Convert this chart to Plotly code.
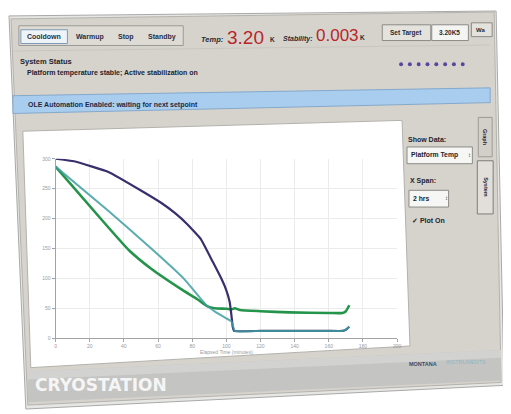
import plotly.graph_objects as go

# ---------------- data ----------------
purple_min = [0, 12, 31, 50, 62, 70, 77, 85, 92, 97, 100, 102, 103, 103.8, 104.5, 120, 140, 160, 168, 170, 172]
purple_K = [300, 295, 278, 247, 226, 209, 191, 166, 128, 100, 80, 60, 38, 18, 12, 12, 12, 12, 12, 14, 19]

teal_min = [0, 30, 58, 75, 88, 94, 100, 103, 105, 120, 140, 160, 168, 170, 172]
teal_K = [287, 215, 145, 100, 56, 43, 33, 28, 12, 12, 12, 12, 12, 14, 19]

green_min = [0, 27, 43, 56, 74, 83, 89, 93, 100, 103, 105, 108, 120, 137, 160, 168, 170, 172]
green_K = [287, 198, 147, 116, 81, 65, 53, 50, 49, 48, 50, 47, 45, 43, 42, 42, 45, 55]

x_ticks = [0, 20, 40, 60, 80, 100, 120, 140, 160, 180, 200]
y_ticks = [0, 50, 100, 150, 200, 250, 300]

# page body margin offset (8px) is compensated
OFF = 8
W, H = 511 - OFF, 414 - OFF
F = "Liberation Sans"


def px(x):
    return (x - OFF) / W


def py(y):
    return 1 - (y - OFF) / H


def path(pts):
    s = "M " + " L ".join(f"{px(x):.5f},{py(y):.5f}" for x, y in pts) + " Z"
    return s


shapes = []
ann = []


def quad(pts, fill, line="rgba(0,0,0,0)", lw=1):
    shapes.append(dict(type="path", xref="paper", yref="paper", path=path(pts),
                       fillcolor=fill, line=dict(color=line, width=lw), layer="below"))


def rect(x0, y0, x1, y1, fill, line="rgba(0,0,0,0)", lw=1):
    quad([(x0, y0), (x1, y0), (x1, y1), (x0, y1)], fill, line, lw)


def txt(x, y, s, size=8, color="#23232e", anchor="left", angle=0, family=F):
    ann.append(dict(x=px(x), y=py(y), xref="paper", yref="paper", text=s, showarrow=False,
                    xanchor=anchor, yanchor="middle", textangle=angle,
                    font=dict(family=family, size=size, color=color)))


# outer frame & panel
quad([(8, 13), (500, 8), (508, 388), (25, 412)], "#e6e6e4", "#a9a9a7", 1)
quad([(10, 16), (498, 9), (505, 385), (27, 408)], "#d6d3cd", "#b5b3ad", 1)

# header separators
quad([(12, 48), (494, 42), (494, 43), (12, 49)], "#c9c6c0")

# blue automation bar
quad([(12, 94), (494, 86), (494, 101), (12, 112)], "#a9cdee", "#85a9cc", 1)

# white chart area
quad([(22, 130), (405, 119), (413, 348), (30, 370)], "#ffffff", "#b4b2ad", 1)

# bottom brand bar
quad([(27, 374), (505, 352), (505, 383), (27, 405)], "#c4c4c2")
quad([(27, 374), (505, 352), (505, 360), (27, 382)], "#d2d2d0")

# tab buttons
rect(18, 23, 184, 43, "#dedbd5", "#9c9a95")
rect(20, 27, 67, 41, "#eef3f8", "#7f9bb8")
for cx, lab in [(43, "Cooldown"), (90, "Warmup"), (126, "Stop"), (163, "Standby")]:
    txt(cx, 34, f"<b>{lab}</b>", 7, "#2a2f45", "center")

# temperature read-outs
txt(200, 37, "<i><b>Temp:</b></i>", 7.5, "#2a2a33")
txt(226, 35, "3.20", 19, "#b8262a")
txt(270, 37, "<b>K</b>", 6.5, "#2a2a33")
txt(283, 36, "<i><b>Stability:</b></i>", 7, "#2a2a33")
txt(316, 33, "0.003", 17, "#b8262a")
txt(361, 35, "<b>K</b>", 6.5, "#2a2a33")

# set target controls
rect(385, 22, 434, 38, "#e4e2dd", "#8c8a86")
txt(409, 30, "<b>Set Target</b>", 6.5, "#2a2a33", "center")
rect(435, 22, 472, 38, "#f4f4f2", "#8c8a86")
txt(453, 30, "<b>3.20K5</b>", 6.5, "#2a2a33", "center")
rect(475, 20, 496, 34, "#e4e2dd", "#8c8a86")
txt(478, 27, "<b>Wa</b>", 6, "#2a2a33")

# status texts
txt(17, 59, "<b>System Status</b>", 7.5, "#23232e")
txt(24, 71, "<b>Platform temperature stable; Active stabilization on</b>", 7, "#23232e")
for i in range(8):
    cx = 404 + i * 8.9
    shapes.append(dict(type="circle", xref="paper", yref="paper",
                       x0=px(cx - 2), x1=px(cx + 2), y0=py(64), y1=py(60),
                       fillcolor="#5547a0", line=dict(width=0), layer="below"))
txt(25, 103, "<b>OLE Automation Enabled: waiting for next setpoint</b>", 7, "#1e2a45")

# right-hand controls
txt(409, 138, "<b>Show Data:</b>", 7, "#23232e")
rect(410, 146, 476, 163, "#f6f6f4", "#8c8a86")
txt(412, 154.5, "<b>Platform Temp</b>", 6.8, "#23232e")
txt(470, 154, "\u2195", 6, "#333")
txt(411, 181, "<b>X Span:</b>", 7, "#23232e")
rect(412, 190, 452, 207, "#f6f6f4", "#8c8a86")
txt(414, 198.5, "<b>2 hrs</b>", 6.8, "#23232e")
txt(446, 198, "\u2195", 6, "#333")
txt(413, 221, "<b>\u2713 Plot On</b>", 7, "#23232e")

# vertical tabs
rect(482, 116, 496, 156, "#d3d0ca", "#9c9a95")
txt(489, 136, "<b>Graph</b>", 5.5, "#23232e", "center", 90)
rect(481, 160, 497, 214, "#e2dfda", "#7f7d79")
txt(489, 187, "<b>System</b>", 5.5, "#23232e", "center", 90)

# branding
txt(32, 388, "<b>CRYOSTATION</b>", 17, "#f5f5f5", family="DejaVu Sans")
txt(410, 366, "<b>MONTANA</b>", 5.5, "#3d4c6a")
txt(447, 364, "INSTRUMENTS", 5.5, "#8fb8c2")

# ---------------- traces ----------------
fig = go.Figure()
fig.add_trace(go.Scatter(x=green_min, y=green_K, mode="lines",
                         line=dict(color="#25954b", width=2.6, shape="spline", smoothing=0.5),
                         name="Stage 1"))
fig.add_trace(go.Scatter(x=purple_min, y=purple_K, mode="lines",
                         line=dict(color="#3a2f6e", width=2.2, shape="spline", smoothing=0.3),
                         name="Stage 2"))
fig.add_trace(go.Scatter(x=teal_min, y=teal_K, mode="lines",
                         line=dict(color="#3f9ea2", width=2.0, shape="spline", smoothing=0.4),
                         opacity=0.85, name="Platform"))

ax_common = dict(showgrid=True, gridcolor="#ececec", gridwidth=1, showline=True,
                 linecolor="#a3a3a3", linewidth=1, ticks="outside", ticklen=3,
                 tickcolor="#a3a3a3", zeroline=False,
                 tickfont=dict(family=F, size=5, color="#9a9a9a"))

fig.update_layout(
    width=W, height=H,
    margin=dict(l=0, r=0, t=0, b=0),
    paper_bgcolor="#ffffff",
    plot_bgcolor="rgba(0,0,0,0)",
    showlegend=False,
    shapes=shapes,
    annotations=ann,
    xaxis=dict(domain=[px(55), px(400)], range=[0, 200], tickvals=x_ticks,
               title=dict(text="Elapsed Time (minutes)", standoff=2,
                          font=dict(family=F, size=5, color="#9a9a9a")),
               **ax_common),
    yaxis=dict(domain=[py(340), py(158)], range=[0, 300], tickvals=y_ticks, **ax_common),
)

fig.write_html("out.html")
